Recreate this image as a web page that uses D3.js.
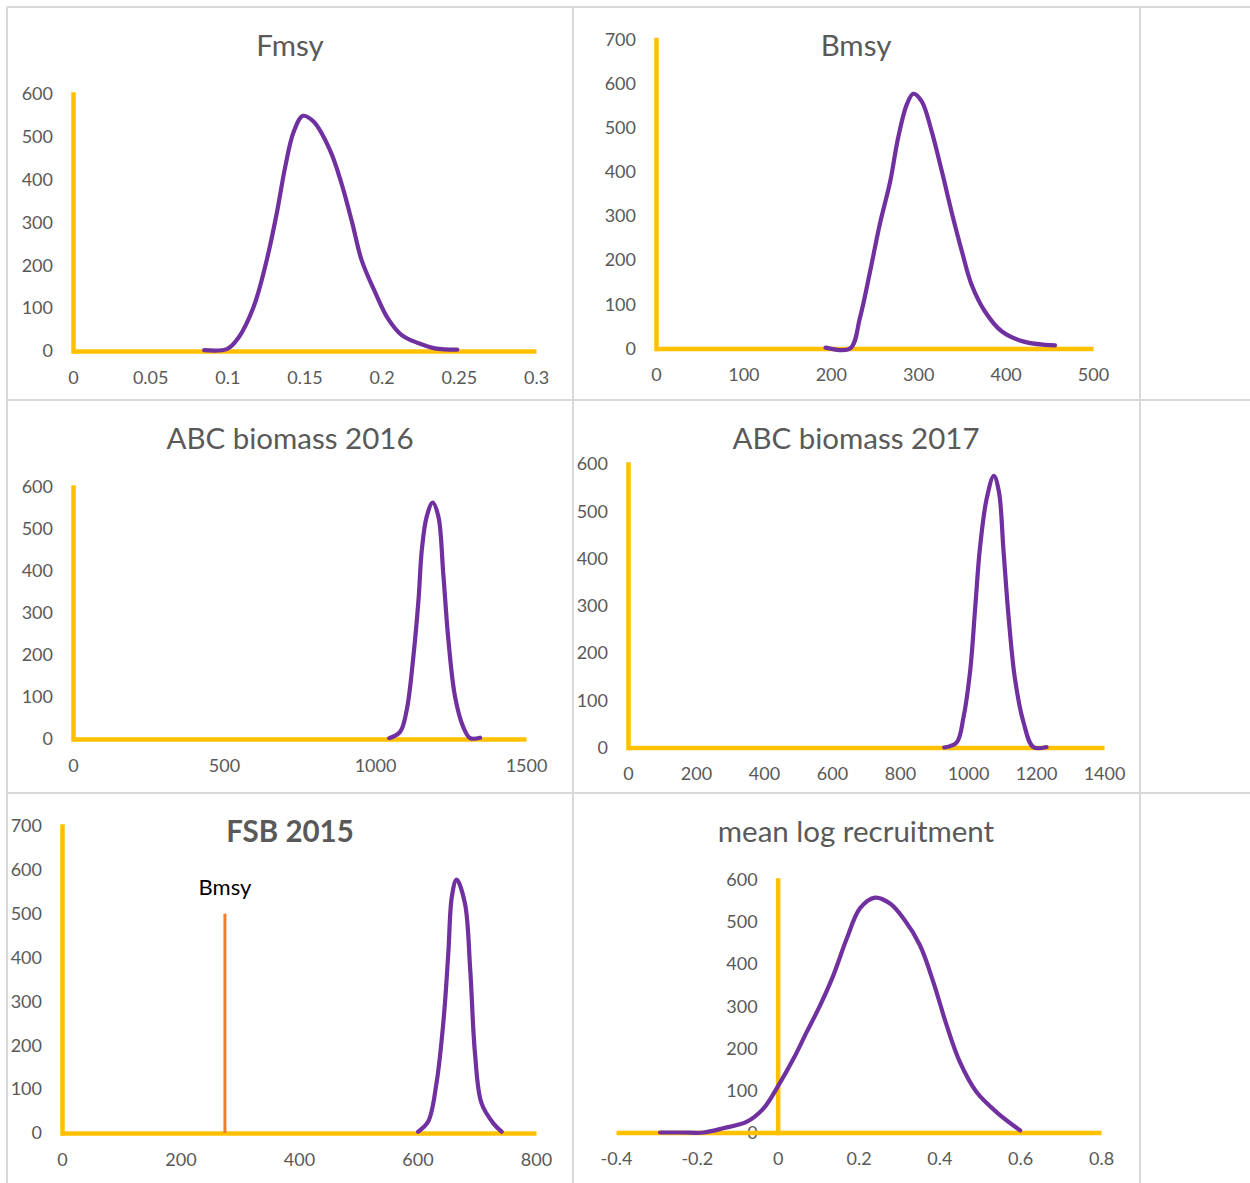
<!DOCTYPE html>
<html>
<head>
<meta charset="utf-8">
<script src="https://cdn.jsdelivr.net/npm/d3@7"></script>
<style>
  html, body { margin: 0; padding: 0; background: #fff; }
  svg { display: block; }
</style>
</head>
<body>
<script>
// ---- Posterior density samples (value, frequency) ----
const fmsyX = [0.085, 0.1, 0.107, 0.117, 0.1255, 0.132, 0.1375, 0.143, 0.149, 0.156, 0.1665, 0.174, 0.181, 0.187, 0.196, 0.204, 0.213, 0.224, 0.2345, 0.249];
const fmsyY = [2, 5, 30, 103, 212, 321, 430, 512, 549, 535, 469, 391, 298, 212, 135, 76, 37, 18, 6, 3];

const bmsyX = [194, 222, 233.4, 245, 256, 268, 277, 287, 294.4, 304, 315.4, 327, 338, 350, 361, 376, 395.5, 422, 456.5];
const bmsyY = [2, 0, 70, 175, 281, 379, 477, 553, 577, 560, 492, 402, 311, 220, 145, 85, 39, 15, 7];

const abc2016X = [1047, 1083, 1105, 1127, 1144, 1155, 1171, 1191, 1210, 1226, 1243, 1265, 1292, 1315, 1348];
const abc2016Y = [2, 17, 69, 196, 331, 450, 529, 563, 529, 394, 236, 101, 29, 2, 3];

const abc2017X = [930, 967, 986, 1006, 1021, 1035, 1055, 1076, 1091, 1104, 1119, 1138, 1163, 1192, 1231];
const abc2017Y = [0, 11, 61, 160, 294, 421, 527, 575, 541, 421, 280, 146, 54, 1, 1];

const fsb2015X = [601, 618, 632, 644, 652, 658, 666, 680, 689, 697, 708, 728, 742];
const fsb2015Y = [3, 26, 113, 258, 410, 539, 578, 524, 372, 182, 68, 22, 3];

const recruitX = [-0.291, -0.234, -0.184, -0.135, -0.077, -0.036, 0.002, 0.039, 0.072, 0.105, 0.138, 0.171, 0.204, 0.241, 0.278, 0.311, 0.352, 0.385, 0.418, 0.451, 0.492, 0.542, 0.6];
const recruitY = [0, 0, 0, 10, 25, 56, 112, 175, 239, 302, 374, 461, 533, 558, 544, 509, 445, 358, 255, 167, 96, 48, 5];

// Reference point drawn on the FSB panel
const bmsyRefValue = 275;
const bmsyRefHeight = 500;
const bmsyRefLabel = "Bmsy";

// ---- Tick labels ----
const fmsyXTicks = [0, 0.05, 0.1, 0.15, 0.2, 0.25, 0.3];
const bmsyXTicks = [0, 100, 200, 300, 400, 500];
const abc2016XTicks = [0, 500, 1000, 1500];
const abc2017XTicks = [0, 200, 400, 600, 800, 1000, 1200, 1400];
const fsb2015XTicks = [0, 200, 400, 600, 800];
const recruitXTicks = [-0.4, -0.2, 0, 0.2, 0.4, 0.6, 0.8];
const yTicks600 = [0, 100, 200, 300, 400, 500, 600];
const yTicks700 = [0, 100, 200, 300, 400, 500, 600, 700];

const titles = ["Fmsy", "Bmsy", "ABC biomass 2016", "ABC biomass 2017", "FSB 2015", "mean log recruitment"];

// ---- Styling ----
const AXIS = "#FFC000", CURVE = "#7030A0", REF = "#ED7D31", TEXT = "#595959", GRID = "#D9D9D9";
const FONT = "Lato, 'Open Sans', sans-serif";

const W = 1250, H = 1183;
const svg = d3.select("body").append("svg").attr("width", W).attr("height", H);

// Sheet cell borders
const gridG = svg.append("g").attr("stroke", GRID).attr("stroke-width", 2);
[7, 573, 1140].forEach(x => gridG.append("line").attr("x1", x).attr("x2", x).attr("y1", 7).attr("y2", H));
[7, 400, 793].forEach(y => gridG.append("line").attr("x1", 7).attr("x2", W).attr("y1", y).attr("y2", y));

// Panel layout (pixel boxes of each plot area: left, right, top, bottom)
const panels = [
  { title: titles[0], xs: fmsyX, ys: fmsyY, xDom: [0, 0.3], yDom: [0, 600], xTicks: fmsyXTicks, yTicks: yTicks600,
    box: [73, 536, 94, 351], titlePos: [290, 56] },
  { title: titles[1], xs: bmsyX, ys: bmsyY, xDom: [0, 500], yDom: [0, 700], xTicks: bmsyXTicks, yTicks: yTicks700,
    box: [656, 1093, 39.5, 348.5], titlePos: [856, 56] },
  { title: titles[2], xs: abc2016X, ys: abc2016Y, xDom: [0, 1500], yDom: [0, 600], xTicks: abc2016XTicks, yTicks: yTicks600,
    box: [73, 526, 487, 739], titlePos: [290, 449] },
  { title: titles[3], xs: abc2017X, ys: abc2017Y, xDom: [0, 1400], yDom: [0, 600], xTicks: abc2017XTicks, yTicks: yTicks600,
    box: [628, 1104, 464, 747.5], titlePos: [856, 449] },
  { title: titles[4], xs: fsb2015X, ys: fsb2015Y, xDom: [0, 800], yDom: [0, 700], xTicks: fsb2015XTicks, yTicks: yTicks700,
    box: [62, 536, 826, 1133], titlePos: [290, 842], bold: true, ref: true },
  { title: titles[5], xs: recruitX, ys: recruitY, xDom: [-0.4, 0.8], yDom: [0, 600], xTicks: recruitXTicks, yTicks: yTicks600,
    box: [616, 1101, 880, 1132.5], titlePos: [856, 842] }
];

panels.forEach(p => {
  const [l, r, t, b] = p.box;
  const x = d3.scaleLinear().domain(p.xDom).range([l, r]);
  const y = d3.scaleLinear().domain(p.yDom).range([b, t]);
  const g = svg.append("g");

  // title
  g.append("text")
    .attr("x", p.titlePos[0]).attr("y", p.titlePos[1])
    .attr("text-anchor", "middle")
    .attr("font-family", FONT).attr("font-size", 29.5)
    .attr("font-weight", p.bold ? 700 : 400)
    .attr("fill", TEXT)
    .text(p.title);

  // x axis along value 0
  const xAxis = g.append("g")
    .attr("transform", `translate(0,${y(0)})`)
    .call(d3.axisBottom(x).tickValues(p.xTicks).tickFormat(d => String(d)).tickSize(0).tickPadding(20));

  // y axis crossing at x = 0
  const yAxis = g.append("g")
    .attr("transform", `translate(${x(0)},0)`)
    .call(d3.axisLeft(y).tickValues(p.yTicks).tickFormat(d => String(d)).tickSize(0).tickPadding(20));

  xAxis.select(".domain").attr("stroke", AXIS).attr("stroke-width", 4.5).attr("stroke-linecap", "butt");
  yAxis.select(".domain").attr("stroke", AXIS).attr("stroke-width", 4.5).attr("stroke-linecap", "square");
  [xAxis, yAxis].forEach(a => {
    a.selectAll("text").attr("font-family", FONT).attr("font-size", 18).attr("fill", TEXT);
  });
  // keep tick labels above the axis lines
  xAxis.raise();
  yAxis.selectAll(".tick").raise();

  // reference line
  if (p.ref) {
    g.append("line")
      .attr("x1", x(bmsyRefValue)).attr("x2", x(bmsyRefValue))
      .attr("y1", y(0)).attr("y2", y(bmsyRefHeight))
      .attr("stroke", REF).attr("stroke-width", 3);
    g.append("text")
      .attr("x", x(bmsyRefValue)).attr("y", y(bmsyRefHeight) - 19)
      .attr("text-anchor", "middle")
      .attr("font-family", FONT).attr("font-size", 22).attr("fill", "#000")
      .text(bmsyRefLabel);
  }

  // density curve
  const pts = p.xs.map((v, i) => [v, p.ys[i]]);
  g.append("path")
    .datum(pts)
    .attr("fill", "none")
    .attr("stroke", CURVE)
    .attr("stroke-width", 4.2)
    .attr("stroke-linecap", "round")
    .attr("stroke-linejoin", "round")
    .attr("d", d3.line().x(d => x(d[0])).y(d => y(d[1])).curve(d3.curveCatmullRom.alpha(0.5)));
});
</script>
</body>
</html>
